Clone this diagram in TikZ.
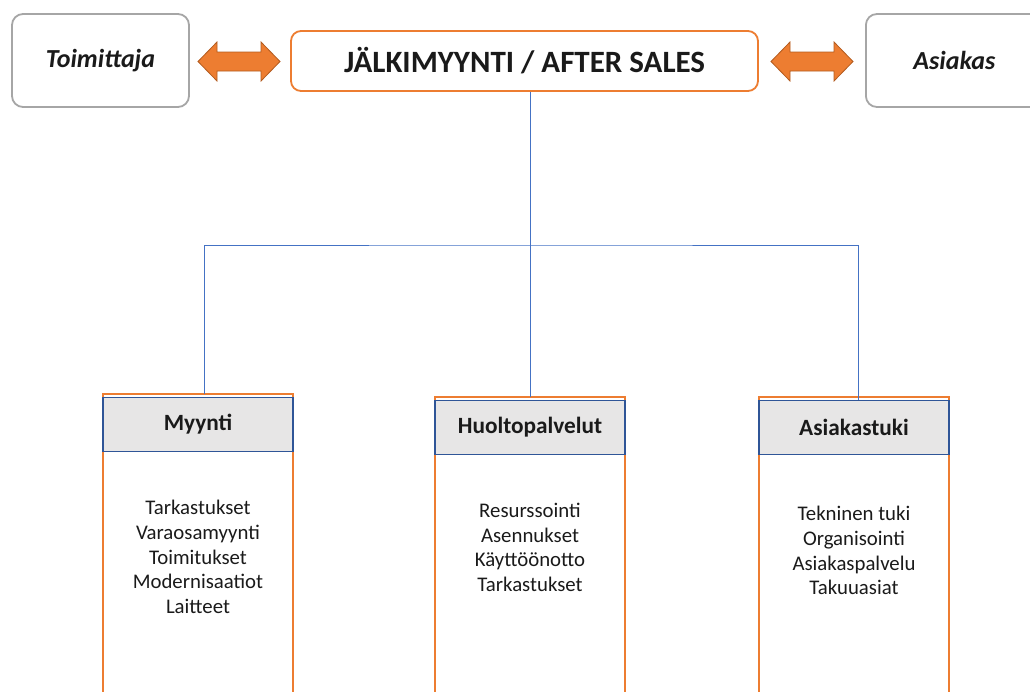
\documentclass[tikz,border=0pt]{standalone}
\usepackage{fontspec}
\setmainfont{Carlito}
\usetikzlibrary{calc}
\definecolor{accent}{HTML}{ED7D31}
\definecolor{accentdark}{HTML}{B25B1F}
\definecolor{frame}{HTML}{A6A6A6}
\definecolor{linkblue}{HTML}{4472C4}
\definecolor{headblue}{HTML}{2F5597}
\definecolor{headfill}{HTML}{E7E6E6}
\definecolor{ink}{HTML}{1A1A1A}
\tikzset{
  party/.style={draw=frame, line width=1.8pt, rounded corners=11pt, fill=white,
    minimum width=177pt, minimum height=93pt, inner sep=0pt, text=ink,
    font=\fontsize{26}{30}\selectfont\bfseries\itshape},
  mainbox/.style={draw=accent, line width=1.8pt, rounded corners=10pt, fill=white,
    minimum width=467pt, minimum height=60pt, inner sep=0pt, text=ink,
    font=\fontsize{31}{35}\selectfont\bfseries},
  colhead/.style={draw=headblue, line width=1.8pt, fill=headfill,
    minimum width=190pt, minimum height=54pt, inner sep=0pt, text=ink,
    font=\fontsize{23.3}{27}\selectfont\bfseries},
  column/.style={draw=accent, line width=1.8pt},
  items/.style={align=center, inner sep=0pt, text=ink,
    font=\fontsize{20.8}{24.7}\selectfont},
  link/.style={draw=linkblue, line width=1pt},
  twoway/.style={fill=accent, draw=accentdark, line width=0.8pt, line join=miter}
}
\begin{document}
\begin{tikzpicture}[x=1pt, y=-1pt]
\useasboundingbox (0,0) rectangle (1030,691);

% top row
\node[party] (supplier) at (100.5,60.5) {Toimittaja};
\node[mainbox] (aftersales) at (524.5,61) {JÄLKIMYYNTI / AFTER SALES};
\node[party, anchor=west] (customer) at (865,60.5) {Asiakas};

% double arrows between the top boxes
\coordinate (la) at (198,61.5);
\coordinate (lb) at (280,61.5);
\coordinate (ra) at (771,61.5);
\coordinate (rb) at (853,61.5);
\foreach \a/\b in {la/lb, ra/rb}{
  \draw[twoway] (\a) -- ($(\a)+(19,-19.5)$) -- ($(\a)+(19,-9.5)$)
    -- ($(\b)+(-19,-9.5)$) -- ($(\b)+(-19,-19.5)$) -- (\b)
    -- ($(\b)+(-19,19.5)$) -- ($(\b)+(-19,9.5)$)
    -- ($(\a)+(19,9.5)$) -- ($(\a)+(19,19.5)$) -- cycle;
}

% columns
\draw[column] (103,700) -- (103,394) -- (293,394) -- (293,700);
\draw[column] (435,700) -- (435,397) -- (625,397) -- (625,700);
\draw[column] (759,700) -- (759,397) -- (949,397) -- (949,700);

\node[colhead] (sales) at (198,424.5) {Myynti};
\node[colhead] (service) at (530,427.5) {Huoltopalvelut};
\node[colhead] (support) at (854,427.5) {Asiakastuki};

\node[items, anchor=north] (salesitems) at (198,500)
  {Tarkastukset\\Varaosamyynti\\Toimitukset\\Modernisaatiot\\Laitteet};
\node[items, anchor=north] (serviceitems) at (530,503)
  {Resurssointi\\Asennukset\\Käyttöönotto\\Tarkastukset};
\node[items, anchor=north] (supportitems) at (854,506)
  {Tekninen tuki\\Organisointi\\Asiakaspalvelu\\Takuuasiat};

% tree connectors
\coordinate (bus) at (530,245);
\draw[link] (aftersales.south -| bus) -- (bus);
\draw[link] (204,394) |- (bus) -| (858,400);
\draw[link] (bus) -- (530,397);
\end{tikzpicture}
\end{document}
